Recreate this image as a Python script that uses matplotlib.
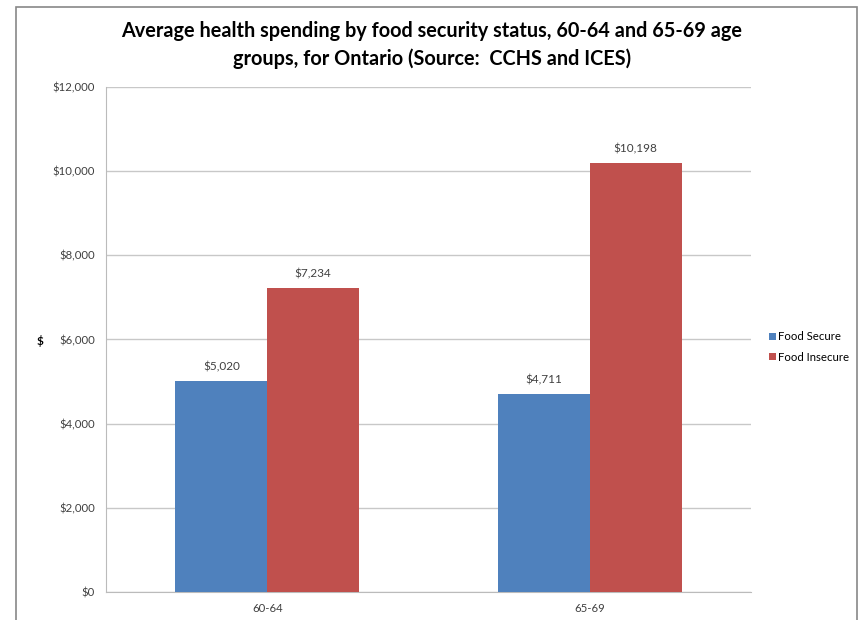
import matplotlib.pyplot as plt
import matplotlib.ticker as ticker
from matplotlib.patches import Rectangle
import numpy as np

age_groups = ["60-64", "65-69"]
food_secure = [5020, 4711]
food_insecure = [7234, 10198]
series_names = ["Food Secure", "Food Insecure"]

plt.rcParams['font.family'] = ['Lato', 'DejaVu Sans']

fig = plt.figure(figsize=(8.64, 6.2), dpi=100)
ax = fig.add_axes([0.1227, 0.0452, 0.7465, 0.8145])

# outer chart frame
fig.patches.append(Rectangle((16 / 864, -0.05), (857 - 16) / 864, 1 - 7 / 620 + 0.05,
                             transform=fig.transFigure, fill=False,
                             edgecolor='#888888', linewidth=1.2))

x = np.arange(len(age_groups))
w = 0.285
b1 = ax.bar(x - w / 2, food_secure, w, color='#4F81BD', label=series_names[0], zorder=3)
b2 = ax.bar(x + w / 2, food_insecure, w, color='#C0504D', label=series_names[1], zorder=3)

for bars, vals in ((b1, food_secure), (b2, food_insecure)):
    for rect, v in zip(bars, vals):
        ax.text(rect.get_x() + rect.get_width() / 2, v + 200, f"${v:,}",
                ha='center', va='bottom', fontsize=8.5, color='#404040')

ax.set_xlim(-0.5, 1.5)
ax.set_ylim(0, 12000)
ax.yaxis.set_major_locator(ticker.MultipleLocator(2000))
ax.yaxis.set_major_formatter(ticker.FuncFormatter(lambda v, p: f"${int(v):,}"))
ax.set_xticks(x)
ax.set_xticklabels(age_groups)
ax.tick_params(axis='both', length=0, labelsize=8.2, colors='#404040', pad=8)
ax.grid(axis='y', color='#c8c8c8', linewidth=1, zorder=0)

for side in ('top', 'right'):
    ax.spines[side].set_visible(False)
ax.spines['left'].set_color('#bbbbbb')
ax.spines['bottom'].set_color('#bbbbbb')

fig.text(40 / 864, 1 - 341 / 620, "$", fontsize=8.5, fontweight='bold', ha='center', va='center')

fig.text(0.5, 1 - 45 / 620,
         "Average health spending by food security status, 60-64 and 65-69 age\ngroups, for Ontario (Source:  CCHS and ICES)",
         ha='center', va='center', fontsize=14.3, fontweight='bold', linespacing=1.45)

ax.legend(loc='center left', bbox_to_anchor=(1.012, 0.485), frameon=False,
          fontsize=8.2, handlelength=0.6, handleheight=0.6, handletextpad=0.2,
          labelspacing=0.85)

fig.savefig('out.png', dpi=100)
